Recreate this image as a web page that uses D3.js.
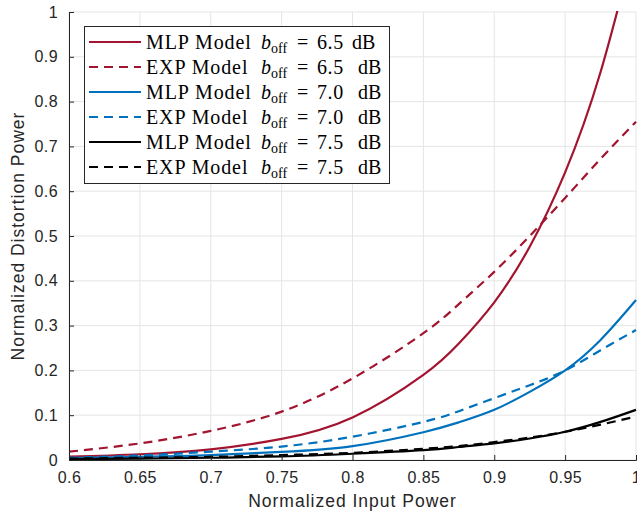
<!DOCTYPE html>
<html>
<head>
<meta charset="utf-8">
<script src="https://cdn.jsdelivr.net/npm/d3@7"></script>
<style>
  html, body { margin: 0; padding: 0; background: #fff; }
  svg { display: block; }
</style>
</head>
<body>
<svg id="chart" width="637" height="512"></svg>
<script>
// Normalized input power samples
const inputPower = [0.6, 0.65, 0.7, 0.75, 0.8, 0.85, 0.875, 0.9, 0.925, 0.95, 0.975, 1.0];

// Normalized distortion power per model and back-off
const mlp65 = [0.0074, 0.0128, 0.0238, 0.047, 0.095, 0.19, 0.26, 0.352, 0.476, 0.642, 0.866, 1.165];
const exp65 = [0.0186, 0.037, 0.065, 0.108, 0.182, 0.283, 0.348, 0.420, 0.50, 0.585, 0.672, 0.755];
const mlp70 = [0.004, 0.007, 0.011, 0.018, 0.031, 0.062, 0.084, 0.112, 0.152, 0.20, 0.268, 0.357];
const exp70 = [0.005, 0.010, 0.0186, 0.030, 0.052, 0.085, 0.109, 0.138, 0.167, 0.20, 0.245, 0.29];
const mlp75 = [0.002, 0.003, 0.005, 0.008, 0.014, 0.022, 0.029, 0.037, 0.048, 0.063, 0.085, 0.112];
const exp75 = [0.003, 0.005, 0.007, 0.011, 0.016, 0.025, 0.031, 0.040, 0.050, 0.063, 0.079, 0.097];

const xTicks = [0.6, 0.65, 0.7, 0.75, 0.8, 0.85, 0.9, 0.95, 1];
const yTicks = [0, 0.1, 0.2, 0.3, 0.4, 0.5, 0.6, 0.7, 0.8, 0.9, 1];

const seriesList = [
  { model: "MLP", boff: "6.5", values: mlp65, color: "#A2142F", dashed: false },
  { model: "EXP", boff: "6.5", values: exp65, color: "#A2142F", dashed: true },
  { model: "MLP", boff: "7.0", values: mlp70, color: "#0072BD", dashed: false },
  { model: "EXP", boff: "7.0", values: exp70, color: "#0072BD", dashed: true },
  { model: "MLP", boff: "7.5", values: mlp75, color: "#000000", dashed: false },
  { model: "EXP", boff: "7.5", values: exp75, color: "#000000", dashed: true }
];

const svg = d3.select("#chart");
const margin = { left: 69, right: 1, top: 12, bottom: 52 };
const W = 637, H = 512;
const x = d3.scaleLinear().domain([0.6, 1]).range([margin.left, W - margin.right]);
const y = d3.scaleLinear().domain([0, 1]).range([H - margin.bottom, margin.top]);

const axisColor = "#262626";
const sans = "'Liberation Sans', Arial, Helvetica, sans-serif";
const serif = "'Liberation Serif', 'Times New Roman', serif";

// grid
const grid = svg.append("g");
grid.selectAll("line.gx").data(xTicks).enter().append("line")
  .attr("x1", d => x(d)).attr("x2", d => x(d))
  .attr("y1", y(0)).attr("y2", y(1))
  .attr("stroke", "#e5e5e5").attr("stroke-width", 1);
grid.selectAll("line.gy").data(yTicks).enter().append("line")
  .attr("x1", x(0.6)).attr("x2", x(1))
  .attr("y1", d => y(d)).attr("y2", d => y(d))
  .attr("stroke", "#e5e5e5").attr("stroke-width", 1);

// clip for curves
svg.append("clipPath").attr("id", "plotClip").append("rect")
  .attr("x", x(0.6)).attr("y", y(1) - 1)
  .attr("width", x(1) - x(0.6) + 2).attr("height", y(0) - y(1) + 1);

const line = d3.line()
  .x((d, i) => x(inputPower[i]))
  .y(d => y(d))
  .curve(d3.curveNatural);

const curves = svg.append("g").attr("clip-path", "url(#plotClip)");
curves.selectAll("path").data(seriesList).enter().append("path")
  .attr("d", s => line(s.values))
  .attr("fill", "none")
  .attr("stroke", s => s.color)
  .attr("stroke-width", 2.2)
  .attr("stroke-dasharray", s => s.dashed ? "9,6" : null);

// axes
const xAxis = d3.axisBottom(x).tickValues(xTicks).tickSize(-5).tickPadding(12)
  .tickFormat(d => String(+d.toFixed(2)));
const yAxis = d3.axisLeft(y).tickValues(yTicks).tickSize(-5).tickPadding(11)
  .tickFormat(d => String(+d.toFixed(1)));

const gx = svg.append("g").attr("transform", `translate(0,${y(0)})`).call(xAxis);
const gy = svg.append("g").attr("transform", `translate(${x(0.6)},0)`).call(yAxis);
[gx, gy].forEach(g => {
  g.select(".domain").attr("stroke", axisColor).attr("stroke-width", 1);
  g.selectAll(".tick line").attr("stroke", axisColor);
  g.selectAll(".tick text").attr("fill", axisColor)
    .style("font-family", sans).style("font-size", "16px")
    .style("letter-spacing", "0.4px");
});

// axis titles
svg.append("text")
  .attr("x", (x(0.6) + x(1)) / 2).attr("y", 507)
  .attr("text-anchor", "middle")
  .attr("fill", axisColor)
  .style("font-family", sans).style("font-size", "17.5px")
  .style("letter-spacing", "1px")
  .text("Normalized Input Power");
svg.append("text")
  .attr("transform", `translate(24,${(y(0) + y(1)) / 2}) rotate(-90)`)
  .attr("text-anchor", "middle")
  .attr("fill", axisColor)
  .style("font-family", sans).style("font-size", "17.5px")
  .style("letter-spacing", "1px")
  .text("Normalized Distortion Power");

// legend
const legend = svg.append("g");
legend.append("rect")
  .attr("x", 84.5).attr("y", 26.5).attr("width", 305).attr("height", 157)
  .attr("fill", "#fff").attr("stroke", "#262626").attr("stroke-width", 1);

const rowY = i => 42 + i * 25;
const rows = legend.selectAll("g.row").data(seriesList).enter().append("g");
rows.append("line")
  .attr("x1", 89).attr("x2", 141)
  .attr("y1", (d, i) => rowY(i)).attr("y2", (d, i) => rowY(i))
  .attr("stroke", d => d.color).attr("stroke-width", 2.2)
  .attr("stroke-dasharray", d => d.dashed ? "9,6" : null);

const txt = rows.append("text")
  .attr("y", (d, i) => rowY(i) + 7)
  .attr("fill", "#000")
  .style("font-family", serif).style("font-size", "20px");
txt.append("tspan").attr("x", 146).style("letter-spacing", "0.9px").text(d => d.model + " Model");
txt.append("tspan").attr("x", 261).style("font-style", "italic").text("b");
txt.append("tspan").attr("dy", 4).style("font-size", "14px").text("off");
txt.append("tspan").attr("x", 297).attr("dy", -4).text("=");
txt.append("tspan").attr("x", 317).style("letter-spacing", "0.6px").text(d => d.boff);
txt.append("tspan").attr("x", (d, i) => i === 0 ? 352 : 358).text("dB");
</script>
</body>
</html>
